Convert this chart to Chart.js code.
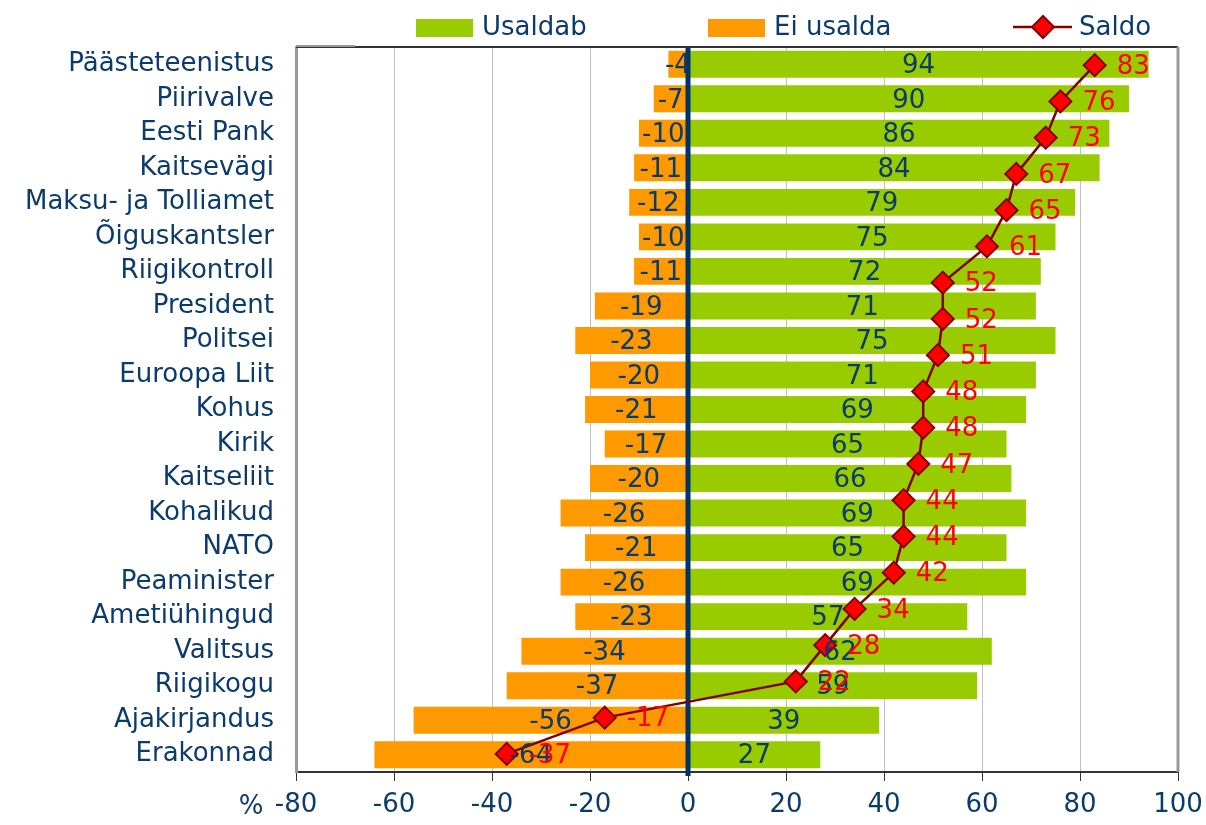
<!DOCTYPE html>
<html lang="et">
<head>
  <meta charset="UTF-8" />
  <title>Usaldus institutsioonide vastu</title>
  <script src="https://cdn.jsdelivr.net/npm/chart.js"></script>
  <style>
    body { margin: 0; background: #fff; }
    #wrap { width: 1206px; height: 825px; }
  </style>
</head>
<body>
  <div id="wrap"><canvas id="chart" width="1206" height="825"></canvas></div>
  <script>
// institutions, top to bottom
const categories = [
  'Päästeteenistus', 'Piirivalve', 'Eesti Pank', 'Kaitsevägi', 'Maksu- ja Tolliamet',
  'Õiguskantsler', 'Riigikontroll', 'President', 'Politsei', 'Euroopa Liit', 'Kohus',
  'Kirik', 'Kaitseliit', 'Kohalikud', 'NATO', 'Peaminister', 'Ametiühingud',
  'Valitsus', 'Riigikogu', 'Ajakirjandus', 'Erakonnad'
];
const usaldab = [94, 90, 86, 84, 79, 75, 72, 71, 75, 71, 69, 65, 66, 69, 65, 69, 57, 62, 59, 39, 27];
const eiUsalda = [-4, -7, -10, -11, -12, -10, -11, -19, -23, -20, -21, -17, -20, -26, -21, -26, -23, -34, -37, -56, -64];
// saldo sits on its own category axis (20 points)
const saldo = [83, 76, 73, 67, 65, 61, 52, 52, 51, 48, 48, 47, 44, 44, 42, 34, 28, 22, -17, -37];
const saldoSlots = saldo.map((v, i) => String(i + 1));
const xTicks = { min: -80, max: 100, step: 20 };

const FONT = 'DejaVu Sans, Verdana, sans-serif';
const NAVY = '#0b3b6b';

// legend, borders, zero line, value labels
const decor = {
  id: 'decor',
  beforeDatasetDraw(chart, args) {
    if (args.meta.type !== 'line') return;
    const { ctx, chartArea } = chart;
    const x0 = chart.scales.x.getPixelForValue(0);
    ctx.save();
    ctx.strokeStyle = '#003366';
    ctx.lineWidth = 5;
    ctx.beginPath();
    ctx.moveTo(x0, chartArea.top);
    ctx.lineTo(x0, chartArea.bottom + 4);
    ctx.stroke();
    ctx.restore();
  },
  afterDatasetsDraw(chart) {
    const { ctx } = chart;
    ctx.save();
    ctx.font = '26px ' + FONT;
    ctx.textAlign = 'center';
    ctx.textBaseline = 'middle';
    ctx.fillStyle = NAVY;
    [0, 1].forEach(di => {
      const ds = chart.data.datasets[di];
      chart.getDatasetMeta(di).data.forEach((bar, i) => {
        const mid = (bar.x + bar.base) / 2;
        ctx.fillText(String(ds.data[i]), mid, bar.y + 2);
      });
    });
    ctx.fillStyle = '#ff0000';
    ctx.textAlign = 'left';
    chart.getDatasetMeta(2).data.forEach((pt, i) => {
      ctx.fillText(String(saldo[i]), pt.x + 22, pt.y + 2);
    });
    ctx.restore();
  },
  afterDraw(chart) {
    const { ctx, chartArea } = chart;
    ctx.save();
    // plot frame
    ctx.strokeStyle = '#333';
    ctx.lineWidth = 2;
    ctx.beginPath();
    ctx.moveTo(chartArea.left, chartArea.top);
    ctx.lineTo(chartArea.right, chartArea.top);
    ctx.stroke();
    ctx.strokeStyle = '#999';
    ctx.lineWidth = 3;
    ctx.beginPath();
    ctx.moveTo(chartArea.right, chartArea.top);
    ctx.lineTo(chartArea.right, chartArea.bottom);
    ctx.stroke();
    ctx.lineWidth = 2;
    ctx.beginPath();
    ctx.moveTo(chartArea.left, chartArea.top - 1);
    ctx.lineTo(chartArea.left + 59, chartArea.top - 1);
    ctx.stroke();

    // % before the first tick
    ctx.font = '26px ' + FONT;
    ctx.fillStyle = NAVY;
    ctx.textAlign = 'center';
    ctx.textBaseline = 'middle';
    ctx.fillText('%', 251, 807);

    // legend
    ctx.textAlign = 'left';
    ctx.fillStyle = '#99cc00';
    ctx.fillRect(416, 19, 57, 18);
    ctx.fillStyle = NAVY;
    ctx.fillText('Usaldab', 482, 28);
    ctx.fillStyle = '#ff9900';
    ctx.fillRect(708, 19, 57, 18);
    ctx.fillStyle = NAVY;
    ctx.fillText('Ei usalda', 774, 28);
    ctx.strokeStyle = '#800000';
    ctx.lineWidth = 2.5;
    ctx.beginPath();
    ctx.moveTo(1013, 27);
    ctx.lineTo(1072, 27);
    ctx.stroke();
    ctx.fillStyle = '#ff0000';
    ctx.lineWidth = 2;
    ctx.beginPath();
    ctx.moveTo(1043, 16);
    ctx.lineTo(1054, 27);
    ctx.lineTo(1043, 38);
    ctx.lineTo(1032, 27);
    ctx.closePath();
    ctx.fill();
    ctx.stroke();
    ctx.fillStyle = NAVY;
    ctx.fillText('Saldo', 1079, 28);
    ctx.restore();
  }
};

new Chart(document.getElementById('chart'), {
  type: 'bar',
  data: {
    labels: categories,
    datasets: [
      {
        label: 'Usaldab',
        data: usaldab,
        backgroundColor: '#99cc00',
        grouped: false,
        order: 1,
        barPercentage: 0.78,
        categoryPercentage: 1
      },
      {
        label: 'Ei usalda',
        data: eiUsalda,
        backgroundColor: '#ff9900',
        grouped: false,
        order: 2,
        barPercentage: 0.78,
        categoryPercentage: 1
      },
      {
        type: 'line',
        label: 'Saldo',
        data: saldo,
        yAxisID: 'y2',
        order: 0,
        borderColor: '#800000',
        borderWidth: 2.5,
        pointStyle: 'rectRot',
        pointRadius: 11,
        pointBackgroundColor: '#ff0000',
        pointBorderColor: '#800000',
        pointBorderWidth: 2,
        fill: false
      }
    ]
  },
  options: {
    indexAxis: 'y',
    responsive: false,
    animation: false,
    layout: { autoPadding: false, padding: { top: 47, right: 28, left: 0, bottom: 0 } },
    plugins: { legend: { display: false }, tooltip: { enabled: false } },
    scales: {
      x: {
        min: xTicks.min,
        max: xTicks.max,
        ticks: { stepSize: xTicks.step, color: NAVY, font: { family: FONT, size: 26 }, padding: 9 },
        grid: { color: '#c0c0c0', tickColor: '#333', tickLength: 9 },
        border: { color: '#333', width: 2 },
        afterFit(s) { s.height = 53; s.paddingRight = 28; s.paddingLeft = 0; }
      },
      y: {
        grid: { display: false },
        ticks: { color: NAVY, font: { family: FONT, size: 26 }, padding: 14 },
        border: { color: '#999', width: 3 },
        afterFit(s) { s.width = 296; s.paddingTop = 0; s.paddingBottom = 0; }
      },
      y2: {
        type: 'category',
        labels: saldoSlots,
        offset: true,
        display: false,
        grid: { display: false }
      }
    }
  },
  plugins: [decor]
});
  </script>
</body>
</html>
